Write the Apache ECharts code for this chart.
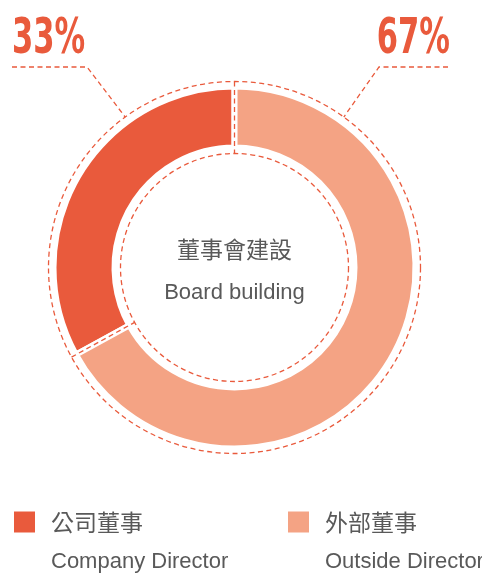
<!DOCTYPE html>
<html lang="zh-Hant" style="height: 100%">
<head>
  <meta charset="utf-8">
</head>
<body style="height: 100%; margin: 0">
  <div id="container" style="width: 482px; height: 573px"></div>

  <script type="text/javascript" src="https://cdn.jsdelivr.net/npm/echarts@6/dist/echarts.min.js"></script>

  <script type="text/javascript">
    // data
    var names = ['公司董事', '外部董事'];
    var namesEn = ['Company Director', 'Outside Director'];
    var values = [33, 67];
    var centerTitle = '董事會建設';
    var centerSub = 'Board building';

    var colors = ['#E95A3C', '#F4A384'];
    var accent = '#E95A3C';
    var grey = '#595959';

    var total = values.reduce(function (a, b) { return a + b; }, 0);
    var pct = values.map(function (v) { return Math.round(v / total * 100) + '%'; });

    var cx = 234.5, cy = 267.5;
    var rDashIn = 114, rDashOut = 186;
    var dash = [5, 3.5];
    var dashWidth = 1.3;

    var dom = document.getElementById('container');
    var myChart = echarts.init(dom, null, { renderer: 'canvas' });

    // leader lines end on the outer dashed circle, 36 deg either side of the top
    var a = 36 * Math.PI / 180;
    var ax = rDashOut * Math.sin(a), ay = rDashOut * Math.cos(a);

    var pctFont = "bold 50px 'DejaVu Sans Condensed', sans-serif";

    var option = {
      animation: false,
      polar: {
        center: [cx, cy],
        radius: [rDashIn, rDashOut]
      },
      angleAxis: {
        type: 'value',
        min: 0,
        max: total,
        startAngle: 90,
        clockwise: false,
        z: 5,
        axisLine: { show: false },
        axisLabel: { show: false },
        axisTick: { show: false, customValues: [0, values[0]] },
        splitLine: { show: true, lineStyle: { color: accent, width: dashWidth, type: dash } }
      },
      radiusAxis: {
        type: 'value',
        min: 0,
        max: 1,
        interval: 1,
        axisLine: { show: false },
        axisLabel: { show: false },
        axisTick: { show: false },
        splitLine: { show: true, lineStyle: { color: accent, width: dashWidth, type: dash } }
      },
      legend: [0, 1].map(function (i) {
        return {
          data: [names[i]],
          left: i === 0 ? 12 : 286,
          top: 477,
          padding: 0,
          icon: 'rect',
          itemWidth: 23,
          itemHeight: 23,
          selectedMode: false,
          formatter: function (n) {
            return '{g| }\n{cn|' + n + '}\n{en|' + namesEn[names.indexOf(n)] + '}';
          },
          textStyle: {
            rich: {
              g: { fontSize: 10, lineHeight: 40 },
              cn: { fontSize: 23, lineHeight: 40, color: grey, padding: [0, 0, 0, 10], fontFamily: 'Noto Sans CJK TC' },
              en: { fontSize: 22, lineHeight: 40, color: grey, padding: [0, 0, 0, 10], fontFamily: 'Liberation Sans' }
            }
          }
        };
      }),
      graphic: [
        {
          type: 'text', x: cx, y: 249,
          style: { text: centerTitle, fill: grey, font: "23px 'Noto Sans CJK TC'", textAlign: 'center', textVerticalAlign: 'middle' }
        },
        {
          type: 'text', x: cx, y: 293,
          style: { text: centerSub, fill: grey, font: "22px 'Liberation Sans'", textAlign: 'center', textVerticalAlign: 'middle' }
        },
        {
          type: 'text', x: 12, y: 40, scaleX: 0.68,
          style: { text: pct[0], fill: accent, font: pctFont, textAlign: 'left', textVerticalAlign: 'middle' }
        },
        {
          type: 'text', x: 450, y: 40, scaleX: 0.68,
          style: { text: pct[1], fill: accent, font: pctFont, textAlign: 'right', textVerticalAlign: 'middle' }
        },
        {
          type: 'polyline',
          shape: { points: [[12, 67], [87, 67], [cx - ax, cy - ay]] },
          style: { stroke: accent, lineWidth: dashWidth, lineDash: dash, fill: null }
        },
        {
          type: 'polyline',
          shape: { points: [[448, 67], [379, 67], [cx + ax, cy - ay]] },
          style: { stroke: accent, lineWidth: dashWidth, lineDash: dash, fill: null }
        }
      ],
      series: [
        {
          type: 'pie',
          center: [cx, cy],
          radius: [120, 181],
          startAngle: 90,
          clockwise: false,
          silent: true,
          label: { show: false },
          labelLine: { show: false },
          itemStyle: { borderColor: '#fff', borderWidth: 6 },
          data: names.map(function (n, i) {
            return { name: n, value: values[i], itemStyle: { color: colors[i] } };
          })
        }
      ]
    };

    myChart.setOption(option);
    window.addEventListener('resize', myChart.resize);
  </script>
</body>
</html>
